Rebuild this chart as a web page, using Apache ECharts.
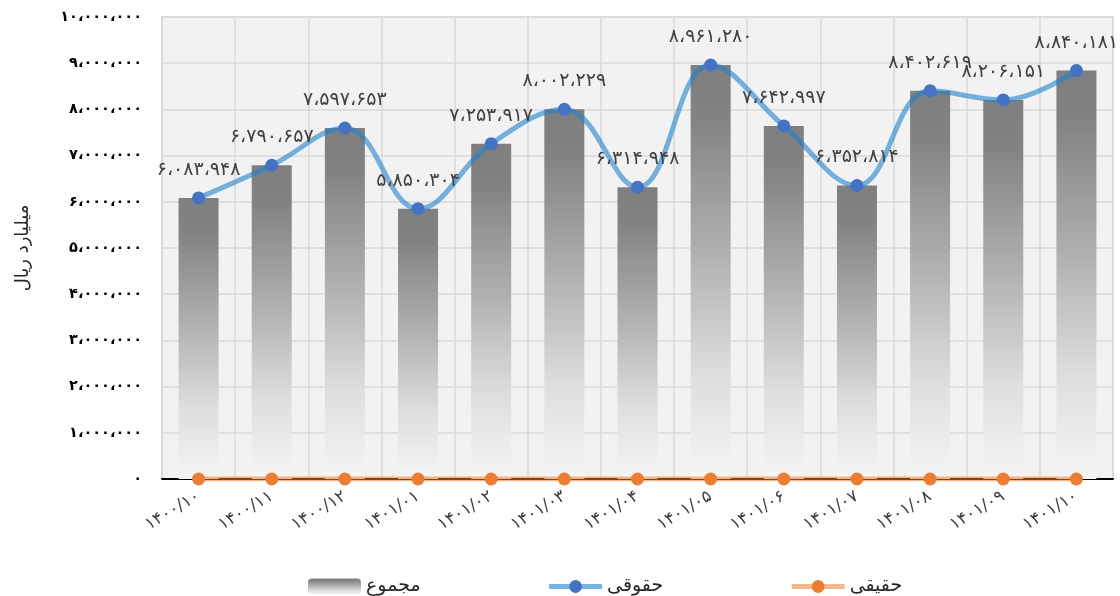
<!DOCTYPE html>
<html><head><meta charset="utf-8">
<script src="https://cdn.jsdelivr.net/npm/echarts@6/dist/echarts.min.js"></script>
<style>html,body{margin:0;padding:0;background:#fff}#c{width:1120px;height:596px}</style>
</head><body><div id="c"></div>
<script>
const categories = ['۱۴۰۰/۱۰','۱۴۰۰/۱۱','۱۴۰۰/۱۲','۱۴۰۱/۰۱','۱۴۰۱/۰۲','۱۴۰۱/۰۳','۱۴۰۱/۰۴','۱۴۰۱/۰۵','۱۴۰۱/۰۶','۱۴۰۱/۰۷','۱۴۰۱/۰۸','۱۴۰۱/۰۹','۱۴۰۱/۱۰'];
const totalValues = [6083948,6790657,7597653,5850304,7253917,8002229,6314948,8961280,7642997,6352814,8402619,8206151,8840181];
const legalValues = [6083948,6790657,7597653,5850304,7253917,8002229,6314948,8961280,7642997,6352814,8402619,8206151,8840181];
const realValues = [0,0,0,0,0,0,0,0,0,0,0,0,0];
const seriesNames = ['مجموع','حقوقی','حقیقی'];
const yAxisName = 'میلیارد ریال';

const fa = '۰۱۲۳۴۵۶۷۸۹';
function toFa(n){
  const s = Math.round(n).toString().replace(/\B(?=(\d{3})+(?!\d))/g, '،');
  return s.replace(/\d/g, d => fa[+d]);
}
const FONT = 'DejaVu Sans';
const chart = echarts.init(document.getElementById('c'), null, {renderer:'canvas'});
chart.setOption({
  backgroundColor:'#ffffff',
  animation:false,
  textStyle:{fontFamily:FONT},
  grid:{left:162,right:7,top:17,bottom:117,show:true,backgroundColor:'#f2f2f2',borderColor:'#d9d9d9',borderWidth:1.5,containLabel:false},
  legend:{
    left:303, top:572, itemWidth:53, itemHeight:16, itemGap:126,
    textStyle:{fontFamily:FONT,fontSize:19,color:'#262626'},
    data:[
      {name:seriesNames[0]},
      {name:seriesNames[1],lineStyle:{width:5}},
      {name:seriesNames[2],lineStyle:{width:5}}
    ]
  },
  xAxis:{
    type:'category', data:categories, boundaryGap:true,
    axisLine:{show:true,lineStyle:{color:'#000',width:2}},
    axisTick:{show:false},
    splitLine:{show:true,lineStyle:{color:'#d9d9d9',width:1.5}},
    axisLabel:{rotate:31,margin:16,fontSize:17,color:'#404040',fontFamily:FONT,interval:0}
  },
  yAxis:{
    type:'value', min:0, max:10000000, interval:1000000,
    name:yAxisName, nameLocation:'middle', nameGap:130, nameRotate:90,
    nameTextStyle:{fontSize:18,color:'#262626',fontFamily:FONT},
    axisLine:{show:false}, axisTick:{show:false},
    splitLine:{show:true,lineStyle:{color:'#d9d9d9',width:1.5}},
    axisLabel:{margin:20,fontSize:14.5,fontWeight:'bold',color:'#000',fontFamily:FONT,formatter:v=>toFa(v)}
  },
  series:[
    {
      name:seriesNames[0], type:'bar', data:totalValues, barWidth:40,
      itemStyle:{color:new echarts.graphic.LinearGradient(0,0,0,1,[
        {offset:0,color:'#7f7f7f'},{offset:0.12,color:'#828282'},
        {offset:0.45,color:'#b0b0b0'},{offset:0.75,color:'#dedede'},{offset:1,color:'#f5f5f5'}])},
      z:2
    },
    {
      name:seriesNames[1], type:'line', data:legalValues, smooth:0.4,
      symbol:'circle', symbolSize:13,
      lineStyle:{color:'rgba(30,130,205,0.6)',width:5},
      itemStyle:{color:'#4472c4'},
      label:{show:true,position:'top',distance:12,fontSize:19,color:'#404040',fontFamily:FONT,formatter:p=>toFa(p.value)},
      z:3
    },
    {
      name:seriesNames[2], type:'line', data:realValues,
      symbol:'circle', symbolSize:13,
      lineStyle:{color:'rgba(237,125,49,0.55)',width:5},
      itemStyle:{color:'#ed7d31'},
      z:4
    }
  ]
});
</script></body></html>
